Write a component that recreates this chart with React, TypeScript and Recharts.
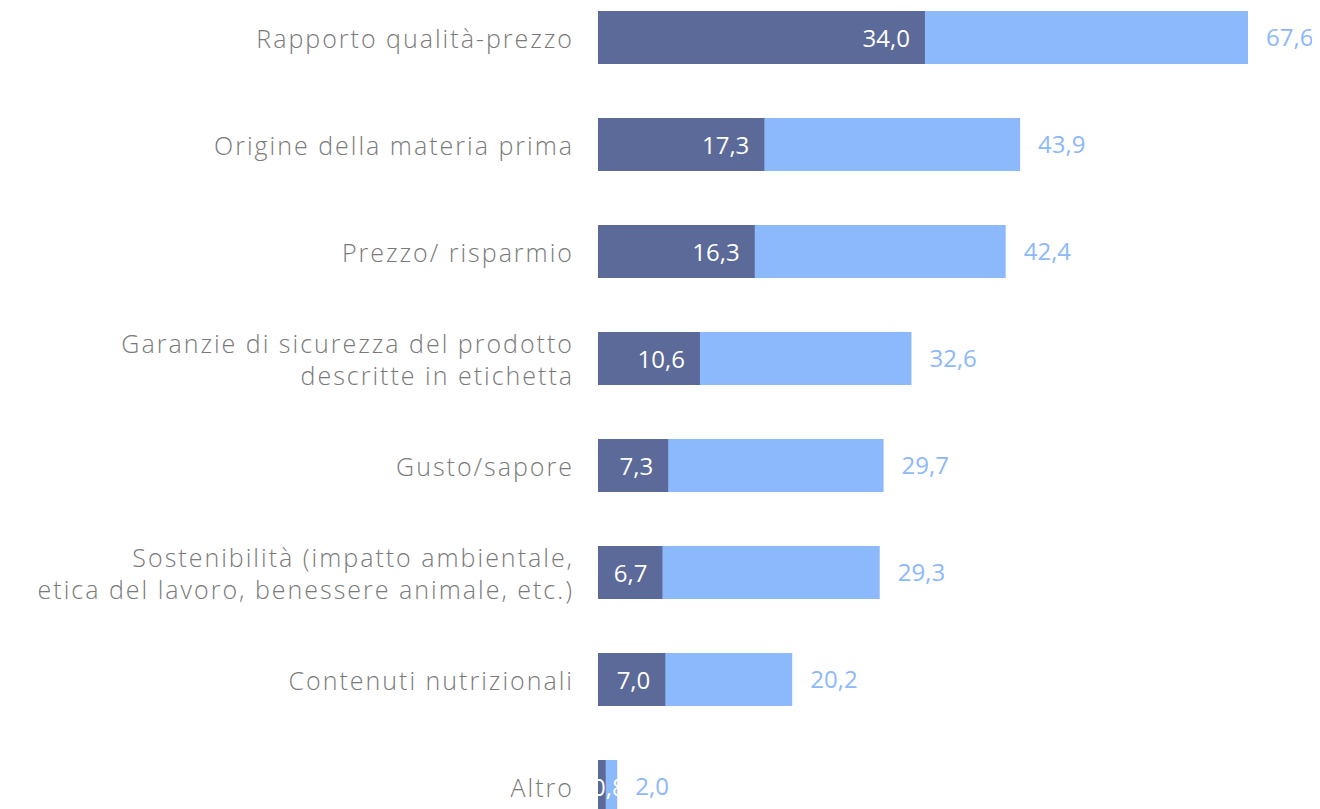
import { BarChart, Bar, XAxis, YAxis, LabelList } from "recharts";

// categorie (le righe lunghe vanno su due righe)
const categories = [
  "Rapporto qualità-prezzo",
  "Origine della materia prima",
  "Prezzo/ risparmio",
  "Garanzie di sicurezza del prodotto\ndescritte in etichetta",
  "Gusto/sapore",
  "Sostenibilità (impatto ambientale,\netica del lavoro, benessere animale, etc.)",
  "Contenuti nutrizionali",
  "Altro",
];
const primaScelta = [34.0, 17.3, 16.3, 10.6, 7.3, 6.7, 7.0, 0.8];
const totale = [67.6, 43.9, 42.4, 32.6, 29.7, 29.3, 20.2, 2.0];

const data = categories.map((name, i) => ({
  name,
  primo: primaScelta[i],
  totale: totale[i],
}));

const DARK = "#5b6a98";
const LIGHT = "#8cb8fc";
const FONT = "'Open Sans', sans-serif";

const fmt = (v: any) => Number(v).toFixed(1).replace(".", ",");

const CategoryTick = ({ x, y, payload }: any) => {
  const lines = String(payload.value).split("\n");
  const lh = 32;
  const start = -((lines.length - 1) * lh) / 2;
  const tx = x + 60;
  return (
    <text
      x={tx}
      y={y}
      textAnchor="end"
      fill="#7a7a7a"
      fontSize={25}
      fontWeight={300}
      letterSpacing={2}
      fontFamily={FONT}
    >
      {lines.map((l, i) => (
        <tspan key={i} x={tx} dy={i === 0 ? start : lh} dominantBaseline="central">
          {l}
        </tspan>
      ))}
    </text>
  );
};

// etichetta interna: a destra dentro la barra; se la barra è troppo corta parte dal bordo
const InnerLabel = ({ x, y, width, height, value }: any) => {
  const small = width < 40;
  return (
    <text
      x={small ? x - 6 : x + width - 15}
      y={y + height / 2}
      textAnchor={small ? "start" : "end"}
      dominantBaseline="central"
      fill="#ffffff"
      fontSize={24}
      fontFamily={FONT}
    >
      {fmt(value)}
    </text>
  );
};

export default function App() {
  return (
    <div style={{ marginTop: -24 }}>
      <BarChart
        width={1304}
        height={856}
        data={data}
        layout="vertical"
        margin={{ top: 0, right: 64, bottom: 0, left: 0 }}
        barCategoryGap={27}
      >
        <XAxis type="number" domain={[0, 67.6]} hide />
        <YAxis
          yAxisId="tot"
          type="category"
          dataKey="name"
          width={590}
          axisLine={false}
          tickLine={false}
          tick={<CategoryTick />}
          tickMargin={18}
          interval={0}
        />
        <YAxis yAxisId="primo" type="category" dataKey="name" hide />
        <Bar
          yAxisId="tot"
          dataKey="totale"
          fill={LIGHT}
          barSize={53}
          isAnimationActive={false}
        >
          <LabelList
            dataKey="totale"
            position="right"
            offset={18}
            formatter={fmt}
            fill={LIGHT}
            fontSize={24}
            fontFamily={FONT}
          />
        </Bar>
        <Bar
          yAxisId="primo"
          dataKey="primo"
          fill={DARK}
          barSize={53}
          isAnimationActive={false}
        >
          <LabelList dataKey="primo" content={<InnerLabel />} />
        </Bar>
      </BarChart>
    </div>
  );
}
